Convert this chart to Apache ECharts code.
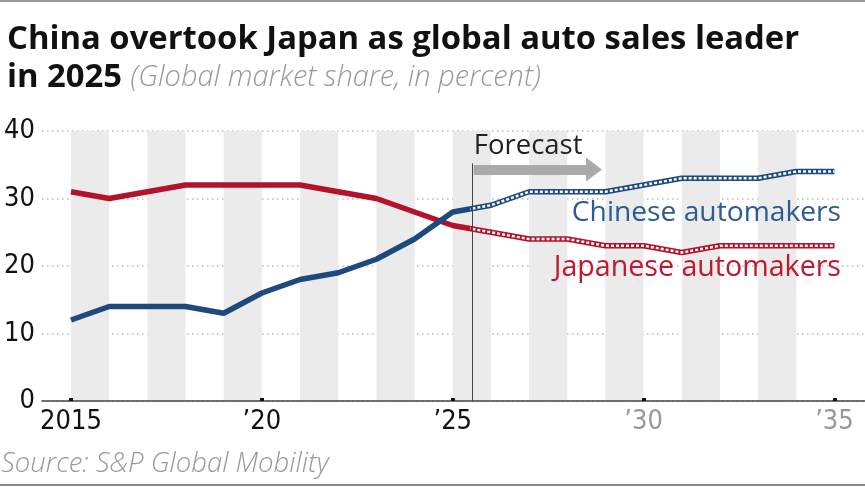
<!DOCTYPE html>
<html>
<head>
    <meta charset="utf-8">
    <title>China overtook Japan</title>
    <script src="https://cdn.jsdelivr.net/npm/echarts@6/dist/echarts.min.js"></script>
    <style>
        html, body {
            margin: 0;
            padding: 0;
            background: #fff;
        }

        #main {
            width: 865px;
            height: 487px;
        }
    </style>
</head>
<body>
<div id="main"></div>
<script>
    // 年份 + 两条市场份额曲线
    var years = [2015, 2016, 2017, 2018, 2019, 2020, 2021, 2022, 2023, 2024, 2025,
        2026, 2027, 2028, 2029, 2030, 2031, 2032, 2033, 2034, 2035];
    var chinese = [12, 14, 14, 14, 13, 16, 18, 19, 21, 24, 28,
        29, 31, 31, 31, 32, 33, 33, 33, 34, 34];
    var japanese = [31, 30, 31, 32, 32, 32, 32, 31, 30, 28, 26,
        25, 24, 24, 23, 23, 22, 23, 23, 23, 23];
    var xTicks = [2015, 2020, 2025, 2030, 2035];
    var bandStarts = [2015, 2017, 2019, 2021, 2023, 2025, 2027, 2029, 2031, 2033];
    var forecastStart = 2025.5;

    var xMin = 2014.24, xMax = 2035.8;
    var gridLeft = 42, gridRight = 0, gridTop = 131, gridBottom = 86;
    var plotW = 865 - gridLeft - gridRight;
    // 预测区域网格的左边界（与主网格同一比例尺）
    var fcLeft = gridLeft + (forecastStart - xMin) / (xMax - xMin) * plotW;

    var blue = '#1d4a7c', red = '#b3122a';

    function pairs(arr, from) {
        var out = [];
        for (var i = 0; i < years.length; i++) {
            if (years[i] >= from) out.push([years[i], arr[i]]);
        }
        return out;
    }

    var bands = bandStarts.map(function (s) {
        return [{xAxis: s}, {xAxis: s + 1}];
    });

    var sans = "'Open Sans', sans-serif";
    var condensed = "'Liberation Sans Narrow', 'DejaVu Sans Condensed', 'Roboto', sans-serif";

    var myChart = echarts.init(document.getElementById('main'));
    var option = {
        animation: false,
        title: {
            left: 2,
            top: 16,
            text: 'China overtook Japan as global auto sales leader\n{b|in 2025} {s|(Global market share, in percent)}',
            textStyle: {
                fontFamily: sans,
                fontWeight: 700,
                fontSize: 32.8,
                color: '#111',
                lineHeight: 38,
                rich: {
                    b: {fontFamily: sans, fontWeight: 700, fontSize: 32.8, color: '#111', lineHeight: 38},
                    s: {fontFamily: sans, fontStyle: 'italic', fontWeight: 300, fontSize: 29, color: '#999', lineHeight: 38}
                }
            }
        },
        grid: [
            {left: gridLeft, right: gridRight, top: gridTop, bottom: gridBottom},
            {left: fcLeft, right: gridRight, top: gridTop, bottom: gridBottom}
        ],
        xAxis: [
            {
                type: 'value',
                min: xMin,
                max: xMax,
                z: 10,
                splitLine: {show: false},
                axisLine: {lineStyle: {color: '#444', width: 1.5}},
                axisTick: {
                    customValues: xTicks,
                    length: 3,
                    inside: true,
                    lineStyle: {color: '#111', width: 4}
                },
                axisLabel: {
                    customValues: xTicks,
                    margin: 7,
                    fontFamily: condensed,
                    fontSize: 27,
                    color: function (v) {
                        return v > 2026 ? '#999' : '#111';
                    },
                    formatter: function (v) {
                        return v === 2015 ? '2015' : '\u2019' + String(v).slice(2);
                    }
                }
            },
            {
                type: 'value',
                gridIndex: 1,
                min: forecastStart,
                max: xMax,
                show: false
            }
        ],
        yAxis: [
            {
                type: 'value',
                min: 0,
                max: 40,
                interval: 10,
                axisLine: {show: false},
                axisTick: {show: false},
                axisLabel: {
                    fontFamily: condensed,
                    fontSize: 27,
                    color: '#111',
                    margin: 7
                },
                splitLine: {lineStyle: {color: '#bbb', width: 1.5, type: [1.5, 3.5]}}
            },
            {
                type: 'value',
                gridIndex: 1,
                min: 0,
                max: 40,
                show: false
            }
        ],
        series: [
            {
                name: 'bands',
                type: 'line',
                data: [],
                silent: true,
                markArea: {
                    silent: true,
                    itemStyle: {color: '#ebebeb'},
                    data: bands
                },
                markLine: {
                    silent: true,
                    symbol: 'none',
                    label: {show: false},
                    lineStyle: {color: '#444', width: 1, type: 'solid'},
                    data: [[{coord: [forecastStart, 0]}, {coord: [forecastStart, 35.2]}]]
                }
            },
            {
                name: 'arrow',
                type: 'line',
                data: [],
                silent: true,
                markLine: {
                    silent: true,
                    symbol: ['none', 'triangle'],
                    symbolSize: [24, 16],
                    lineStyle: {color: '#aaa', width: 10, type: 'solid'},
                    label: {
                        show: true,
                        position: 'insideStartTop',
                        distance: [0, 9],
                        formatter: 'Forecast',
                        fontFamily: sans,
                        fontSize: 27.5,
                        color: '#222'
                    },
                    data: [[{coord: [forecastStart + 0.05, 34.3]}, {coord: [2028.7, 34.3]}]]
                }
            },
            {
                name: 'Japanese automakers',
                type: 'line',
                data: pairs(japanese, 2015),
                showSymbol: false,
                lineStyle: {color: red, width: 5.5},
                z: 3
            },
            {
                name: 'Chinese automakers',
                type: 'line',
                data: pairs(chinese, 2015),
                showSymbol: false,
                lineStyle: {color: blue, width: 5.5},
                z: 3
            },
            {
                name: 'jp-forecast',
                type: 'line',
                xAxisIndex: 1,
                yAxisIndex: 1,
                data: pairs(japanese, 2025),
                showSymbol: false,
                clip: true,
                lineStyle: {color: '#fff', width: 2.4, type: [3, 2]},
                z: 4
            },
            {
                name: 'cn-forecast',
                type: 'line',
                xAxisIndex: 1,
                yAxisIndex: 1,
                data: pairs(chinese, 2025),
                showSymbol: false,
                clip: true,
                lineStyle: {color: '#fff', width: 2.4, type: [3, 2]},
                z: 4
            }
        ],
        graphic: [
            {
                type: 'text',
                x: 841,
                y: 213,
                z: 100,
                style: {
                    text: 'Chinese automakers', fontFamily: sans, fontSize: 28.2, fill: '#2c5b8e',
                    align: 'right', verticalAlign: 'middle'
                }
            },
            {
                type: 'text',
                x: 841,
                y: 268,
                z: 100,
                style: {
                    text: 'Japanese automakers', fontFamily: sans, fontSize: 28.6, fill: '#c0182f',
                    align: 'right', verticalAlign: 'middle'
                }
            },
            {
                type: 'text',
                x: 1,
                y: 464,
                z: 100,
                style: {
                    text: 'Source: S&P Global Mobility',
                    fontFamily: sans,
                    fontStyle: 'italic',
                    fontWeight: 300,
                    fontSize: 27.5,
                    fill: '#999',
                    verticalAlign: 'middle'
                }
            },
            {
                type: 'rect',
                left: 0,
                top: 0,
                z: 100,
                shape: {width: 865, height: 2},
                style: {fill: '#999'}
            },
            {
                type: 'rect',
                left: 0,
                top: 484,
                z: 100,
                shape: {width: 865, height: 2},
                style: {fill: '#888'}
            }
        ]
    };
    myChart.setOption(option);
</script>
</body>
</html>
